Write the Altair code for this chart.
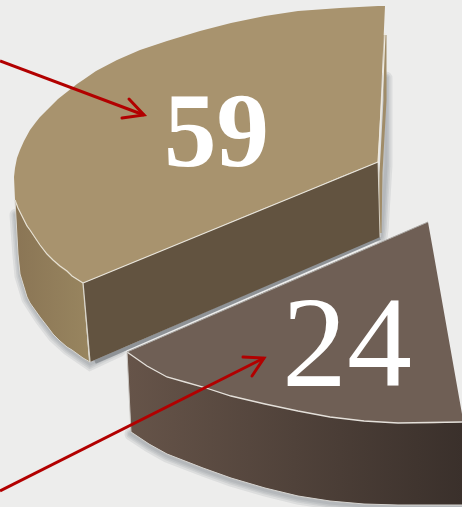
import altair as alt
import pandas as pd

W, H = 462, 507

# Value labels
label_large = "59"
label_small = "24"

# Upper slice: top face
top_x = [14, 15, 17, 20, 24, 30, 36, 40, 47, 58, 72, 77, 83, 96, 117, 140, 167, 200, 231, 265, 298, 340, 378, 385]
top_y1 = [177, 168, 158, 150, 141, 130, 122, 117, 110, 99, 88, 84, 80, 71, 60, 50, 41, 31, 23, 16, 11, 8, 6, 6]
top_y2 = [177, 200, 206, 212, 220, 230, 240, 245, 254, 266, 276, 279, 283, 278, 269, 259.5, 248.5, 235, 222, 208, 195, 177, 162, 6]

# Upper slice: rounded outer wall
outer_x = [15, 18, 20, 27, 30, 40, 47, 53, 60, 67, 72, 83, 89]
outer_y1 = [200, 208, 212, 226, 230, 245, 254, 260, 266, 271, 276, 283, 362]
outer_y2 = [200, 254, 274, 297, 303, 317, 326, 334, 341, 347, 350, 358, 362]

# Upper slice: flat cut wall
cut_x = [83, 90, 378, 380]
cut_y1 = [283, 280, 162, 237]
cut_y2 = [283, 362, 238, 237]

# Lower slice: top face
low_x = [127, 147, 167, 185, 203, 231, 265, 298, 330, 364, 398, 428, 433, 462]
low_y1 = [352, 343.4, 334.7, 327, 319, 307, 292, 278, 264, 249.6, 235, 222, 250, 414]
low_y2 = [352, 366, 377, 382, 387, 396, 404, 411, 417, 421, 423, 423.5, 423.5, 422]

# Lower slice: rounded wall
lwall_x = [127, 131, 149, 167, 185, 203, 231, 265, 298, 330, 364, 398, 462]
lwall_y1 = [352, 354, 367, 377, 382, 387, 396, 404, 411, 417, 421, 423, 422]
lwall_y2 = [352, 432, 444, 454, 461, 468, 478, 488, 496, 501, 504, 505, 505]

# Pointer arrows
arrow_a_x = [0, 144]
arrow_a_y = [61, 115]
head_a_x = [129, 144, 122]
head_a_y = [99, 115, 118]
arrow_b_x = [0, 264]
arrow_b_y = [491, 358]
head_b_x = [243, 264, 252]
head_b_y = [357, 358, 376]

x_enc = alt.X("x:Q", scale=alt.Scale(domain=[0, W]), axis=None)
y_enc = alt.Y("y:Q", scale=alt.Scale(domain=[H, 0]), axis=None)


def face(xs, y1, y2, color):
    df = pd.DataFrame({"x": xs, "y": y1, "y2": y2})
    return alt.Chart(df).mark_area(color=color, interpolate="linear").encode(
        x=x_enc, y=y_enc, y2="y2:Q"
    )


def stroke(xs, ys, color, width, opacity=1.0, cap="butt"):
    df = pd.DataFrame({"x": xs, "y": ys, "i": range(len(xs))})
    return alt.Chart(df).mark_line(
        color=color, strokeWidth=width, opacity=opacity, strokeCap=cap, interpolate="linear"
    ).encode(x=x_enc, y=y_enc, order=alt.Order("i:Q"))


def sideways(c0, c1):
    return alt.Gradient(
        gradient="linear",
        stops=[alt.GradientStop(color=c0, offset=0), alt.GradientStop(color=c1, offset=1)],
        x1=0, x2=1, y1=0, y2=0,
    )


def soft_shadow(xs, ys):
    # Stacked translucent strokes give a soft falloff
    return [stroke(xs, ys, "#6f7378", w, 0.13, "round") for w in (13, 9, 6, 3)]


layers = []

# Drop shadows under the slices
layers += soft_shadow([16, 19, 21, 28, 41, 54, 68, 90, 120], [215, 256, 276, 299, 319, 336, 349, 364, 350])
layers += soft_shadow([386, 386, 382, 381], [78, 165, 230, 237])
layers += soft_shadow([131, 149, 167, 203, 231, 265, 298, 330, 364, 462], [434, 446, 456, 470, 480, 490, 498, 503, 506, 507])
layers += [stroke([95, 380], [362, 238], "#8e9296", 4)]

# Upper slice
layers += [
    stroke([385, 385, 381, 380], [35, 100, 173, 233], "#a08c68", 3),
    face(outer_x, outer_y1, outer_y2, sideways("#8a7555", "#98855f")),
    face(cut_x, cut_y1, cut_y2, "#625340"),
    face(top_x, top_y1, top_y2, "#a8936e"),
    stroke(outer_x[:-1], outer_y1[:-1], "#e6e0d2", 1.2),
    stroke([83, 378], [283, 162], "#e8e4da", 1.3),
    stroke([83, 90], [283, 362], "#d9d5ca", 1.3),
    stroke([385, 383, 378], [33, 80, 162], "#efeadf", 1.2),
    stroke([15] + outer_x[1:-1] + [90], [200] + outer_y2[1:-1] + [362], "#d8d6d0", 1),
    stroke([378, 380], [162, 237], "#e8e4da", 0.8),
]

# Lower slice
layers += [
    face(lwall_x, lwall_y1, lwall_y2, sideways("#665449", "#3a302b")),
    face(low_x, low_y1, low_y2, "#6f5f55"),
    stroke(low_x[:11] + [462], low_y2[:11] + [422], "#e4e0da", 1.3),
    stroke([127, 428], [352, 222], "#a9a6a2", 1),
    stroke([127, 131], [352, 432], "#c9c6c2", 1),
    stroke(lwall_x[1:], lwall_y2[1:], "#d6d4d0", 1),
]

# Pointer arrows
red = "#b20000"
layers += [
    stroke(arrow_a_x, arrow_a_y, red, 3),
    stroke(head_a_x, head_a_y, red, 3, cap="round"),
    stroke(arrow_b_x, arrow_b_y, red, 3),
    stroke(head_b_x, head_b_y, red, 3, cap="round"),
]

# Value labels
text_df_a = pd.DataFrame({"x": [216.5], "y": [166], "label": [label_large]})
text_df_b = pd.DataFrame({"x": [347], "y": [386], "label": [label_small]})
layers += [
    alt.Chart(text_df_a).mark_text(
        font="Liberation Serif", fontWeight="bold", fontSize=105, color="white",
        align="center", baseline="alphabetic",
    ).encode(x=x_enc, y=y_enc, text="label:N"),
    alt.Chart(text_df_b).mark_text(
        font="Liberation Serif", fontSize=130, color="white",
        align="center", baseline="alphabetic",
    ).encode(x=x_enc, y=y_enc, text="label:N"),
]

chart = alt.layer(*layers).properties(
    width=W, height=H, padding=0, background="#ededec",
    autosize=alt.AutoSizeParams(type="none"),
).configure_view(stroke=None)

chart.save("out.html", embed_options={"renderer": "svg", "actions": False})
